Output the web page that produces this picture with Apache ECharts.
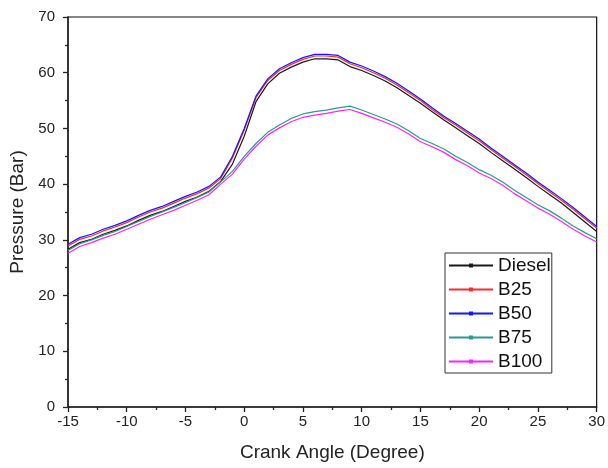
<!DOCTYPE html>
<html>
<head>
<meta charset="utf-8">
<script src="https://cdn.jsdelivr.net/npm/echarts@6/dist/echarts.min.js"></script>
<style>
  html, body { margin: 0; padding: 0; background: #fff; }
  #chart { width: 608px; height: 468px; }
</style>
</head>
<body>
<div id="chart"></div>
<script>
// Crank angle in degrees (-15 .. 30, 1° steps)
const crankAngle = [];
for (let a = -15; a <= 30; a++) crankAngle.push(a);

// Cylinder pressure (bar) for each fuel blend
const diesel = [28.3, 29.5, 30.1, 31.0, 31.7, 32.5, 33.5, 34.4, 35.1, 36.0, 36.9, 37.7, 38.7, 40.5,
  43.6, 48.6, 54.8, 58.0, 59.9, 61.0, 61.9, 62.5, 62.5, 62.3, 61.1, 60.4, 59.5, 58.5, 57.3, 55.9,
  54.5, 53.0, 51.5, 50.1, 48.7, 47.3, 45.7, 44.2, 42.7, 41.2, 39.6, 38.1, 36.6, 34.9, 33.2, 31.5];
const b25 = [28.9, 30.1, 30.7, 31.6, 32.3, 33.1, 34.1, 35.0, 35.7, 36.6, 37.5, 38.3, 39.3, 41.0,
  44.7, 49.7, 55.5, 58.6, 60.4, 61.5, 62.4, 63.0, 63.0, 62.8, 61.6, 60.9, 60.0, 59.0, 57.8, 56.4,
  55.0, 53.4, 51.9, 50.6, 49.2, 47.8, 46.2, 44.7, 43.2, 41.7, 40.1, 38.6, 37.1, 35.5, 33.8, 32.1];
const b50 = [29.2, 30.4, 31.0, 31.9, 32.6, 33.4, 34.4, 35.3, 36.0, 36.9, 37.8, 38.6, 39.6, 41.3,
  45.0, 50.0, 55.8, 58.9, 60.7, 61.8, 62.7, 63.3, 63.3, 63.1, 61.9, 61.2, 60.3, 59.3, 58.1, 56.7,
  55.3, 53.7, 52.2, 50.9, 49.5, 48.1, 46.5, 45.0, 43.5, 42.0, 40.4, 38.9, 37.4, 35.8, 34.1, 32.4];
const b75 = [28.1, 29.3, 30.0, 30.8, 31.5, 32.4, 33.3, 34.2, 35.0, 35.8, 36.7, 37.6, 38.6, 40.4,
  42.3, 45.0, 47.3, 49.3, 50.6, 51.8, 52.6, 53.0, 53.3, 53.7, 54.0, 53.3, 52.5, 51.7, 50.8, 49.6,
  48.2, 47.3, 46.3, 45.0, 43.9, 42.6, 41.6, 40.4, 38.9, 37.6, 36.3, 35.2, 33.9, 32.5, 31.3, 30.2];
const b100 = [27.6, 28.8, 29.5, 30.3, 31.0, 31.9, 32.8, 33.7, 34.5, 35.3, 36.2, 37.1, 38.1, 40.0,
  41.8, 44.5, 46.8, 48.8, 50.1, 51.2, 52.0, 52.4, 52.7, 53.1, 53.4, 52.7, 51.9, 51.1, 50.2, 49.0,
  47.6, 46.7, 45.7, 44.4, 43.3, 42.0, 41.0, 39.8, 38.3, 37.0, 35.7, 34.6, 33.3, 31.9, 30.7, 29.6];

const seriesNames = ['Diesel', 'B25', 'B50', 'B75', 'B100'];
const seriesValues = [diesel, b25, b50, b75, b100];
const seriesColors = ['#1a1a1a', '#ff2a2a', '#1515ff', '#2a9a8c', '#ff22ff'];

// X axis ticks and Y axis ticks
const xTicks = { min: -15, max: 30, step: 5 };
const yTicks = { min: 0, max: 70, step: 10 };

const FONT = 'Liberation Sans, Arial, sans-serif';

const chart = echarts.init(document.getElementById('chart'), null, { renderer: 'canvas' });

const series = seriesNames.map((name, i) => ({
  name: name,
  type: 'line',
  data: crankAngle.map((a, j) => [a, seriesValues[i][j]]),
  symbol: 'rect',
  symbolSize: 3,
  showSymbol: false,
  smooth: false,
  lineStyle: { color: seriesColors[i], width: 1.2 },
  itemStyle: { color: seriesColors[i] },
  emphasis: { disabled: true },
  animation: false
}));

chart.setOption({
  backgroundColor: '#ffffff',
  animation: false,
  grid: {
    left: 68, right: 9, top: 17, bottom: 61,
    show: true, borderColor: '#111', borderWidth: 1.2, backgroundColor: 'transparent'
  },
  legend: {
    data: seriesNames,
    orient: 'vertical',
    left: 445, top: 253,
    itemWidth: 44,
    itemHeight: 5,
    itemGap: 5,
    padding: [3, 1, 2, 3],
    borderColor: '#333',
    borderWidth: 1,
    backgroundColor: '#fff',
    textStyle: { fontFamily: FONT, fontSize: 19, lineHeight: 19, color: '#111' },
    selectedMode: false
  },
  xAxis: {
    type: 'value',
    min: xTicks.min, max: xTicks.max, interval: xTicks.step,
    name: 'Crank Angle (Degree)',
    nameLocation: 'middle',
    nameGap: 36,
    nameTextStyle: { fontFamily: FONT, fontSize: 19, color: '#222' },
    axisLine: { show: true, onZero: false, lineStyle: { color: '#222', width: 1.5 } },
    axisTick: { show: true, inside: false, length: 5, lineStyle: { color: '#222', width: 1.3 } },
    minorTick: { show: true, splitNumber: 2, length: 3, lineStyle: { color: '#222', width: 1.3 } },
    axisLabel: { fontFamily: FONT, fontSize: 15, color: '#222', margin: 7 },
    splitLine: { show: false }
  },
  yAxis: {
    type: 'value',
    min: yTicks.min, max: yTicks.max, interval: yTicks.step,
    name: 'Pressure (Bar)',
    nameLocation: 'middle',
    nameGap: 39,
    nameTextStyle: { fontFamily: FONT, fontSize: 19, color: '#222' },
    axisLine: { show: true, onZero: false, lineStyle: { color: '#222', width: 1.5 } },
    axisTick: { show: true, inside: false, length: 5, lineStyle: { color: '#222', width: 1.3 } },
    minorTick: { show: true, splitNumber: 2, length: 3, lineStyle: { color: '#222', width: 1.3 } },
    axisLabel: { fontFamily: FONT, fontSize: 15, color: '#222', margin: 13 },
    splitLine: { show: false }
  },
  series: series
});
</script>
</body>
</html>
